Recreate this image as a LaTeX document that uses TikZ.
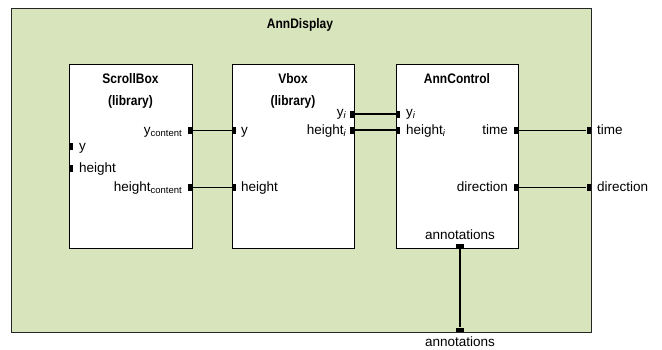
\documentclass[tikz,border=0pt]{standalone}
\usepackage{fontspec}
\setmainfont{Liberation Sans}
\newfontfamily\narrowbold[FakeStretch=0.87]{Liberation Sans Bold}
\definecolor{dispgreen}{RGB}{216,228,188}
\newcommand{\subtxt}[1]{\raisebox{-2.6pt}{\fontsize{9.5}{10}\selectfont #1}}
\newcommand{\subit}{\raisebox{-2.6pt}{\fontsize{9.5}{10}\selectfont\itshape i}}
\tikzset{
  blk/.style={draw=black, line width=0.9pt, fill=white, inner sep=0pt, anchor=north west},
  outerblk/.style={draw=black!85, line width=0.9pt, fill=dispgreen, inner sep=0pt, anchor=north west},
  portv/.style={fill=black, inner sep=0pt, minimum width=4.5pt, minimum height=7pt},
  porth/.style={fill=black, inner sep=0pt, minimum width=8pt, minimum height=4.5pt},
  lbl/.style={font=\fontsize{13.5}{15}\selectfont, inner sep=0pt},
  ttl/.style={font=\fontsize{13.8}{15}\narrowbold, inner sep=0pt, anchor=base},
  wire/.style={line width=0.9pt},
  busw/.style={line width=2pt},
}
\begin{document}
\begin{tikzpicture}[x=1pt, y=-1pt]
  \useasboundingbox (0,0) rectangle (662,349);

  % enclosing component
  \node[outerblk, minimum width=580pt, minimum height=324pt] (disp) at (11,8) {};
  \node[ttl] (disptitle) at (300,28) {AnnDisplay};

  % inner components
  \node[blk, minimum width=123pt, minimum height=184pt] (sb) at (69,64) {};
  \node[blk, minimum width=122pt, minimum height=184pt] (vb) at (232,64) {};
  \node[blk, minimum width=122pt, minimum height=184pt] (ac) at (396,64) {};

  \node[ttl] (sbt1) at (130.5,83.5) {ScrollBox};
  \node[ttl] (sbt2) at (130.5,105) {(library)};
  \node[ttl] (vbt1) at (293,83.5) {Vbox};
  \node[ttl] (vbt2) at (293,105) {(library)};
  \node[ttl] (act1) at (457,83.5) {AnnControl};

  % ports
  \node[portv] (sb-y)  at (71,146) {};
  \node[portv] (sb-h)  at (71,168) {};
  \node[portv] (sb-yc) at (190,130) {};
  \node[portv] (sb-hc) at (190,187) {};
  \node[portv] (vb-y)  at (234,130) {};
  \node[portv] (vb-h)  at (234,187) {};
  \node[portv] (vb-yi) at (352,114) {};
  \node[portv] (vb-hi) at (352,130) {};
  \node[portv] (ac-yi) at (398,114) {};
  \node[portv] (ac-hi) at (398,130) {};
  \node[portv] (ac-time) at (516,130) {};
  \node[portv] (ac-dir)  at (516,187) {};
  \node[porth] (ac-ann)  at (460,245.8) {};
  \node[portv] (d-time) at (588.8,130) {};
  \node[portv] (d-dir)  at (588.8,187) {};
  \node[porth] (d-ann)  at (460,329.8) {};

  % port labels
  \node[lbl, anchor=mid west] (l-sb-y) at (79,147.5) {y};
  \node[lbl, anchor=mid west] (l-sb-h) at (79,169.5) {height};
  \node[lbl, anchor=mid east] (l-sb-yc) at (182,131.5) {y\subtxt{content}};
  \node[lbl, anchor=mid east] (l-sb-hc) at (182,188.5) {height\subtxt{content}};
  \node[lbl, anchor=mid west] (l-vb-y) at (241,131.5) {y};
  \node[lbl, anchor=mid west] (l-vb-h) at (241,188.5) {height};
  \node[lbl, anchor=mid east] (l-vb-yi) at (346,113.5) {y\subit};
  \node[lbl, anchor=mid east] (l-vb-hi) at (346,131.5) {height\subit};
  \node[lbl, anchor=mid west] (l-ac-yi) at (406,113.5) {y\subit};
  \node[lbl, anchor=mid west] (l-ac-hi) at (406,131.5) {height\subit};
  \node[lbl, anchor=mid east] (l-ac-time) at (508,131.5) {time};
  \node[lbl, anchor=mid east] (l-ac-dir) at (508,188.5) {direction};
  \node[lbl, anchor=base] (l-ac-ann) at (460,239.5) {annotations};
  \node[lbl, anchor=mid west] (l-d-time) at (597,131.5) {time};
  \node[lbl, anchor=mid west] (l-d-dir) at (597,188.5) {direction};
  \node[lbl, anchor=base] (l-d-ann) at (460,346.5) {annotations};

  % connections
  \draw[wire] (sb-yc.east) -- (vb-y.west);
  \draw[wire] (sb-hc.east) -- (vb-h.west);
  \draw[busw] (vb-yi.east) -- (ac-yi.west);
  \draw[busw] (vb-hi.east) -- (ac-hi.west);
  \draw[wire] (ac-time.east) -- (d-time.west);
  \draw[wire] (ac-dir.east) -- (d-dir.west);
  \draw[busw] (ac-ann.south) -- (d-ann.north);
\end{tikzpicture}
\end{document}
